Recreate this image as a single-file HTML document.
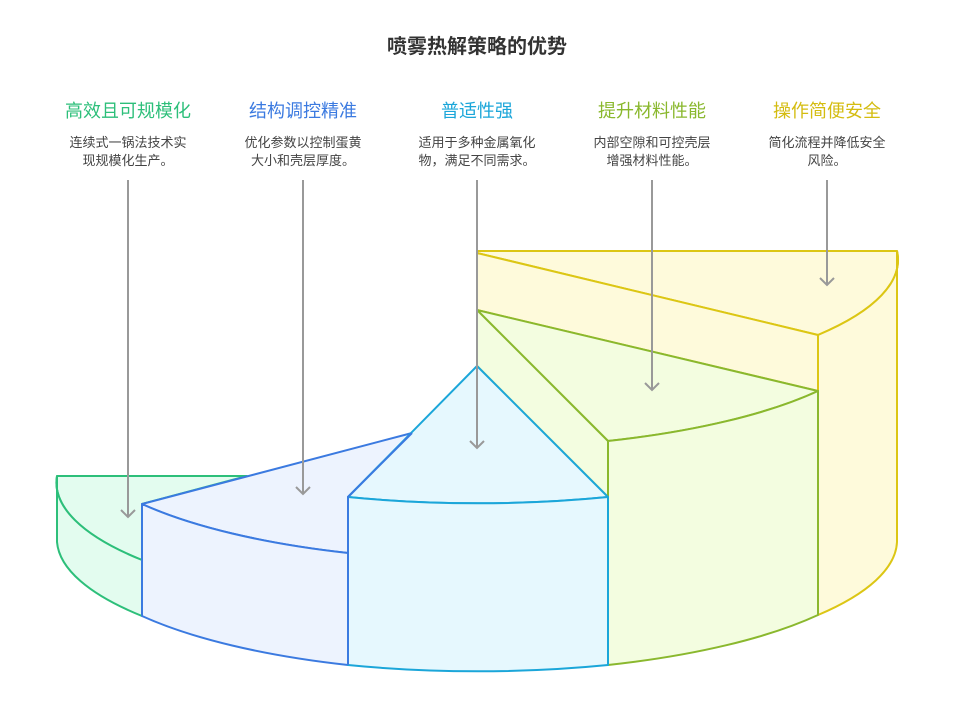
<!DOCTYPE html>
<html><head><meta charset="utf-8"><style>
body{margin:0;background:#fff;width:955px;height:715px;overflow:hidden;font-family:"Liberation Sans","Noto Sans CJK SC",sans-serif}
</style></head><body>
<svg width="955" height="715" viewBox="0 0 955 715" xmlns="http://www.w3.org/2000/svg" style="position:absolute;left:0;top:0">
<g font-family="Liberation Sans, Noto Sans CJK SC, sans-serif" text-anchor="middle">
<text x="477" y="53" font-size="20" font-weight="bold" fill="#333">喷雾热解策略的优势</text>
<g font-size="18">
<text x="128" y="117" fill="#2dbf7a">高效且可规模化</text>
<text x="303" y="117" fill="#3b7ae0">结构调控精准</text>
<text x="477" y="117" fill="#1ba6d9">普适性强</text>
<text x="652" y="117" fill="#8ab82e">提升材料性能</text>
<text x="827" y="117" fill="#d4bc10">操作简便安全</text>
</g>
<g font-size="13" fill="#444">
<text x="128" y="147">连续式一锅法技术实</text><text x="128" y="165">现规模化生产。</text>
<text x="303" y="147">优化参数以控制蛋黄</text><text x="303" y="165">大小和壳层厚度。</text>
<text x="477" y="147">适用于多种金属氧化</text><text x="477" y="165">物，满足不同需求。</text>
<text x="652" y="147">内部空隙和可控壳层</text><text x="652" y="165">增强材料性能。</text>
<text x="827" y="147">简化流程并降低安全</text><text x="827" y="165">风险。</text>
</g>
</g>
<g stroke-width="2" stroke-linejoin="round">
<g fill="#fefadb" stroke="#dcc614">
<path d="M477,251 L897,251 A420,128 0 0 1 818,335 L477,253 Z"/>
<path d="M477,253 L818,335 L818,391 L477,310 Z"/>
<path d="M818,335 A420,128 0 0 0 897,251 L897,542 A420,128 0 0 1 818,615 Z"/>
</g>
<g fill="#f3fde0" stroke="#8ab82e">
<path d="M477,310 L818,391 A420,128 0 0 1 608,441 Z"/>
<path d="M477,310 L608,441 L608,497 L477,366 Z"/>
<path d="M608,441 A420,128 0 0 0 818,391 L818,615 A420,128 0 0 1 608,665 Z"/>
</g>
<g fill="#e3fcef" stroke="#2dbf7a">
<path d="M57,476 L247,476 L142,504 L142,560 A420,128 0 0 1 57,476 Z"/>
<path d="M57,476 A420,128 0 0 0 142,560 L142,616 A420,128 0 0 1 57,542 Z"/>
</g>
<g fill="#edf3fe" stroke="#3b7ae0">
<path d="M142,504 L412,433 L348,497 L348,553 A420,128 0 0 1 142,504 Z"/>
<path d="M142,504 A420,128 0 0 0 348,553 L348,665 A420,128 0 0 1 142,616 Z"/>
</g>
<g fill="#e6f8fe" stroke="#1ba6d9">
<path d="M477,366 L608,497 A420,128 0 0 1 348,497 Z"/>
<path d="M348,497 A420,128 0 0 0 608,497 L608,665 A420,128 0 0 1 348,665 Z"/>
</g>
<path d="M412,433 L348,497 L348,665" fill="none" stroke="#3b7ae0"/>
</g>
<g stroke="#999" stroke-width="2" fill="none">
<path d="M128,180V517M121,510L128,517L135,510"/>
<path d="M303,180V494M296,487L303,494L310,487"/>
<path d="M477,180V448M470,441L477,448L484,441"/>
<path d="M652,180V390M645,383L652,390L659,383"/>
<path d="M827,180V285M820,278L827,285L834,278"/>
</g>
</svg>
</body></html>
